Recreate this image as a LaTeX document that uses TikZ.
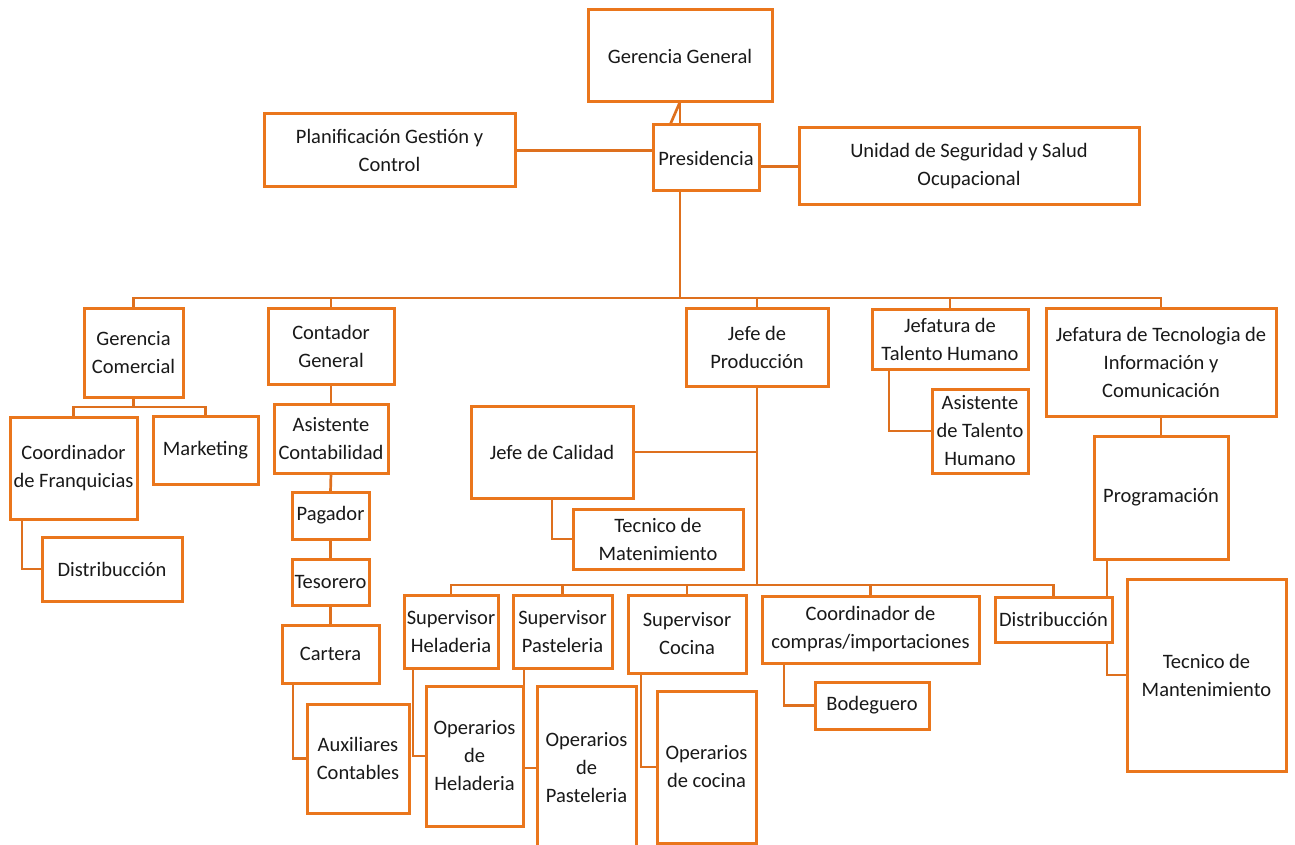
\documentclass[tikz,border=0pt]{standalone}
\usepackage{fontspec}
\setmainfont{Carlito}
\usetikzlibrary{backgrounds,calc}
\definecolor{org}{RGB}{234,118,28}
\definecolor{orgl}{RGB}{222,112,30}
\definecolor{txt}{RGB}{25,25,25}
\tikzset{
  obox/.style={draw=org, line width=3pt, fill=white, inner sep=1pt, outer sep=0pt,
    align=center, text=txt, font={\fontsize{20.5}{28}\selectfont}},
  conn/.style={draw=orgl, line width=2.7pt, line join=miter}
}
\newcommand{\ob}[6]{\node[obox,minimum width={#4-#2},minimum height={#5-#3}] (#1) at ({(#2+#4)/2},{(#3+#5)/2}) {#6};}
\begin{document}
\begin{tikzpicture}[x=1pt,y=-1pt]
\useasboundingbox (0,0) rectangle (1295,845);
\clip (0,0) rectangle (1295,845);
\ob{gg}{588}{10}{772}{102}{Gerencia General}
\ob{pres}{653}{125}{759}{191}{Presidencia}
\ob{plan}{264}{114}{515}{187}{Planificación Gestión y\\Control}
\ob{usso}{799}{128}{1139}{205}{Unidad de Seguridad y Salud\\Ocupacional}
\ob{gc}{84}{308}{183}{397}{Gerencia\\Comercial}
\ob{cg}{268}{308}{394}{384}{Contador\\General}
\ob{jp}{686}{308}{828}{386}{Jefe de\\Producción}
\ob{jt}{872}{309}{1028}{369}{Jefatura de\\Talento Humano}
\ob{tic}{1046}{308}{1276}{416}{Jefatura de Tecnologia de\\Información y\\Comunicación}
\ob{cf}{10}{417}{137}{519}{Coordinador\\de Franquicias}
\ob{mk}{153}{416}{258}{484}{Marketing}
\ob{dl}{42}{537}{182}{601}{Distribucción}
\ob{ac}{274}{404}{388}{473}{Asistente\\Contabilidad}
\ob{pg}{292}{492}{369}{539}{Pagador}
\ob{ts}{292}{559}{369}{605}{Tesorero}
\ob{ct}{282}{625}{379}{683}{Cartera}
\ob{ax}{307}{704}{409}{813}{Auxiliares\\Contables}
\ob{jc}{471}{406}{633}{498}{Jefe de Calidad}
\ob{tm}{573}{509}{743}{569}{Tecnico de\\Matenimiento}
\ob{at}{932}{389}{1028}{473}{Asistente\\de Talento\\Humano}
\ob{pr}{1094}{436}{1228}{559}{Programación}
\ob{sh}{404}{595}{498}{668}{Supervisor\\Heladeria}
\ob{sp}{513}{595}{612}{668}{Supervisor\\Pasteleria}
\ob{sc}{628}{595}{746}{673}{Supervisor\\Cocina}
\ob{cc}{762}{596}{979}{663}{Coordinador de\\compras/importaciones}
\ob{dr}{995}{597}{1112}{642}{Distribucción}
\ob{tmr}{1127}{579}{1286}{771}{Tecnico de\\Mantenimiento}
\ob{oh}{426}{686}{523}{826}{Operarios\\de\\Heladeria}
\ob{op}{537}{686}{636}{850}{Operarios\\de\\Pasteleria}
\ob{oc}{657}{691}{756}{843}{Operarios\\de cocina}
\ob{bg}{815}{682}{929}{729}{Bodeguero}
\begin{scope}[on background layer]
\coordinate (busA) at (0,298);
\coordinate (busB) at (0,407);
\coordinate (busC) at (0,585);
\draw[conn] (gg.south) -- (gg.south |- pres.north);
\draw[conn] (gg.south) -- ($(gg.south)+(-10,23)$);
\draw[conn] (plan.east) -- (plan.east -| pres.west);
\draw[conn] (usso.west -| pres.east) -- (usso.west);
\draw[conn] (gg.south |- pres.south) -- (gg.south |- busA);
\draw[conn] (gc.north) -- (gc.north |- busA) -- (tic.north |- busA) -- (tic.north);
\draw[conn] (cg.north) -- (cg.north |- busA);
\draw[conn] (jp.north) -- (jp.north |- busA);
\draw[conn] (jt.north) -- (jt.north |- busA);
% Gerencia Comercial
\draw[conn] (gc.south) -- (gc.south |- busB);
\draw[conn] (cf.north) -- (cf.north |- busB) -- (mk.north |- busB) -- (mk.north);
\draw[conn] ([xshift=12pt]cf.south west) |- (dl.west);
% Contador chain
\draw[conn] (cg.south) -- (ac.north);
\draw[conn] (ac.south) -- (pg.north);
\draw[conn] (pg.south) -- (ts.north);
\draw[conn] (ts.south) -- (ct.north);
\draw[conn] ([xshift=11pt]ct.south west) |- (ax.west);
% Produccion
\draw[conn] (jp.south) -- (jp.south |- busC);
\draw[conn] (jc.east) -- (jc.east -| jp.south);
\draw[conn] (jc.south) |- (tm.west);
\draw[conn] (sh.north) -- (sh.north |- busC) -- (dr.north |- busC) -- (dr.north);
\draw[conn] (sp.north) -- (sp.north |- busC);
\draw[conn] (sc.north) -- (sc.north |- busC);
\draw[conn] (cc.north) -- (cc.north |- busC);
\draw[conn] ([xshift=9pt]sh.south west) |- (oh.west);
\draw[conn] ([xshift=11pt]sp.south west) |- (op.west);
\draw[conn] ([xshift=13pt]sc.south west) |- (oc.west);
\draw[conn] ([xshift=22pt]cc.south west) |- (bg.west);
% Talento / TIC
\draw[conn] ([xshift=17pt]jt.south west) |- (at.west);
\draw[conn] (tic.south) -- (pr.north);
\draw[conn] ([xshift=13pt]pr.south west) |- (tmr.west);
\end{scope}
\end{tikzpicture}
\end{document}
